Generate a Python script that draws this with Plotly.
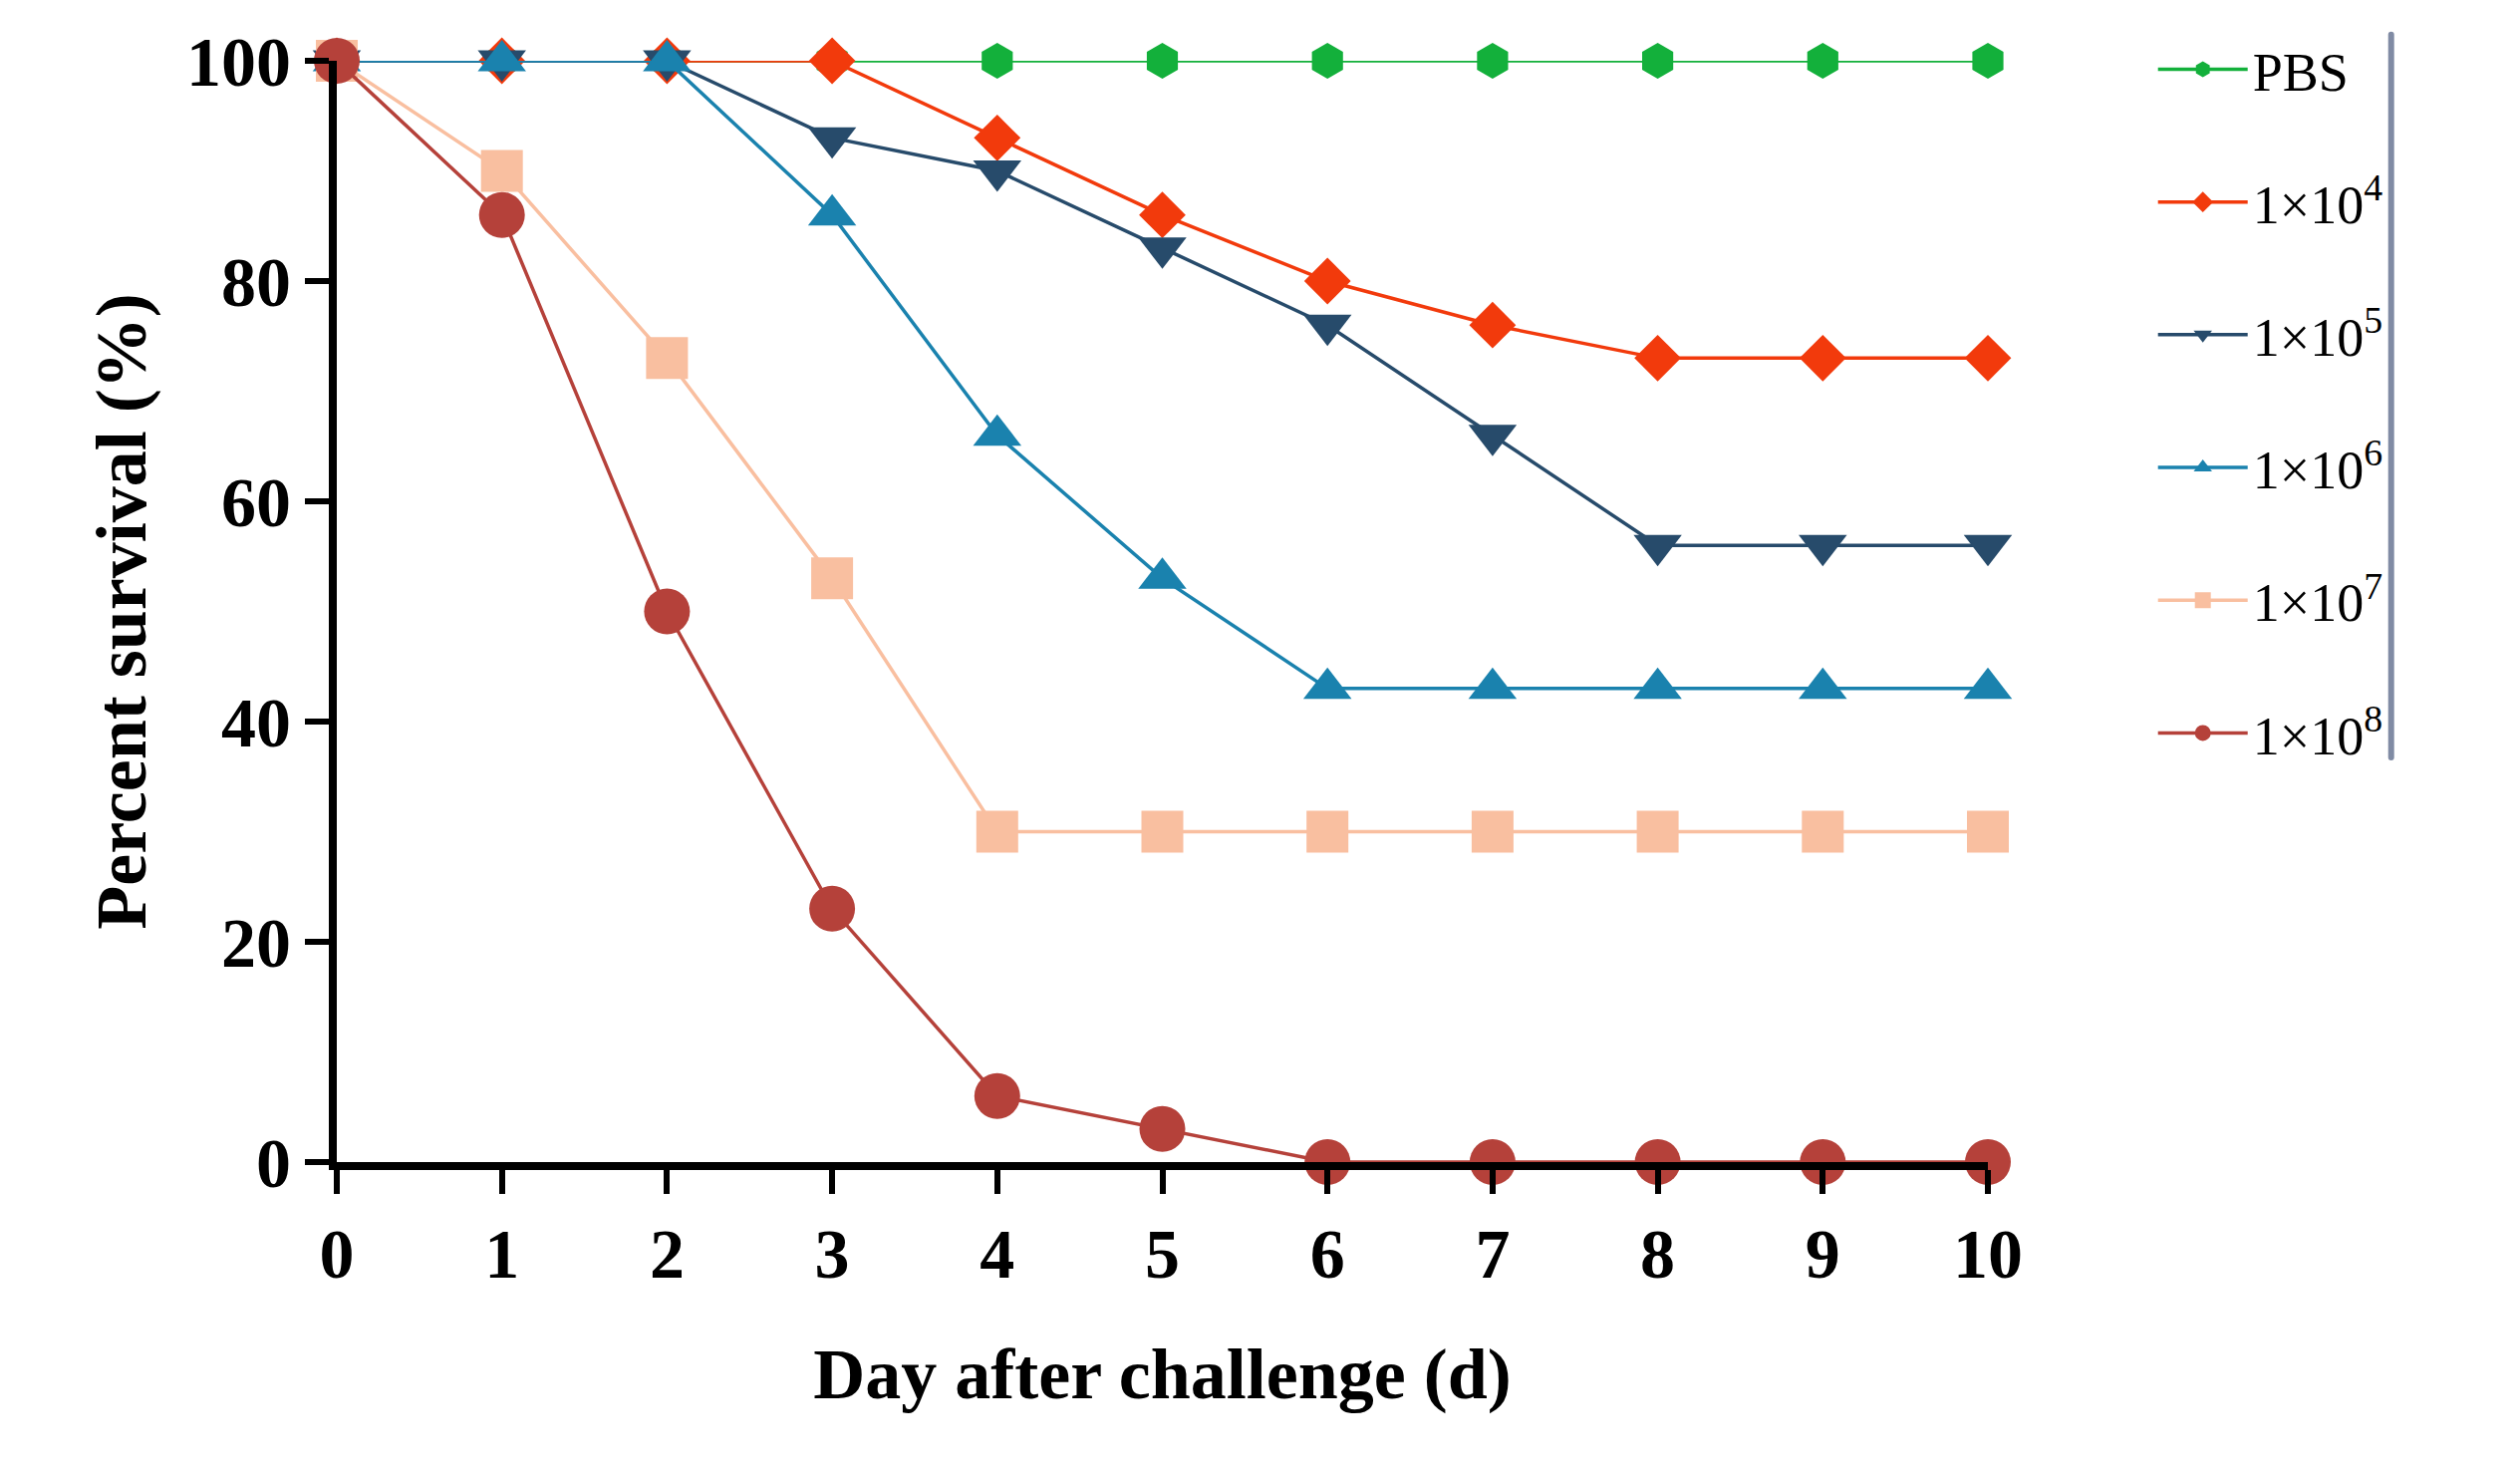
import plotly.graph_objects as go

# =============================================================================
# DATA
# =============================================================================

days = [0, 1, 2, 3, 4, 5, 6, 7, 8, 9, 10]

dose_1e8 = [100, 86, 50, 23, 6, 3, 0, 0, 0, 0, 0]
dose_1e7 = [100, 90, 73, 53, 30, 30, 30, 30, 30, 30, 30]
dose_1e6 = [100, 100, 100, 86, 66, 53, 43, 43, 43, 43, 43]
dose_1e5 = [100, 100, 100, 93, 90, 83, 76, 66, 56, 56, 56]
dose_1e4 = [100, 100, 100, 100, 93, 86, 80, 76, 73, 73, 73]
pbs = [100, 100, 100, 100, 100, 100, 100, 100, 100, 100, 100]

# drawn bottom to top (PBS first), legend shown reversed
series = [
    ("PBS", pbs, "#13B03B", "hexagon", 36),
    ("1×10<sup>4</sup>", dose_1e4, "#F23A0C", "diamond", 36),
    ("1×10<sup>5</sup>", dose_1e5, "#274B6B", "triangle-down", 42),
    ("1×10<sup>6</sup>", dose_1e6, "#1A82AE", "triangle-up", 42),
    ("1×10<sup>7</sup>", dose_1e7, "#F9BFA0", "square", 42),
    ("1×10<sup>8</sup>", dose_1e8, "#B5413A", "circle", 46),
]

FONT = "Liberation Serif"

# =============================================================================
# FIGURE
# =============================================================================

fig = go.Figure()

for name, vals, color, symbol, size in series:
    fig.add_trace(
        go.Scatter(
            x=days,
            y=vals,
            mode="lines+markers",
            name=name,
            legendgroup=name,
            line=dict(color=color, width=3.5),
            marker=dict(color=color, symbol=symbol, size=size),
            cliponaxis=False,
        )
    )

fig.update_layout(
    width=2529,
    height=1481,
    plot_bgcolor="white",
    paper_bgcolor="white",
    margin=dict(l=330, r=542, t=53, b=323),
    font=dict(family=FONT, color="black"),
    legend=dict(
        x=1.1,
        y=1.03,
        xanchor="left",
        yanchor="top",
        font=dict(family=FONT, size=54),
        traceorder="reversed+grouped",
        tracegroupgap=60,
        itemwidth=90,
    ),
)

fig.update_xaxes(
    range=[0, 10],
    tickvals=days,
    showgrid=False,
    zeroline=False,
    showline=True,
    linecolor="black",
    linewidth=8,
    ticks="outside",
    ticklen=24,
    tickwidth=6,
    tickcolor="black",
    tickfont=dict(family=FONT, size=70, color="black", weight="bold"),
    title=dict(
        text="<b>Day after challenge (d)</b>",
        font=dict(family=FONT, size=72),
        standoff=60,
    ),
)

fig.update_yaxes(
    range=[0, 100],
    tickvals=[0, 20, 40, 60, 80, 100],
    showgrid=False,
    zeroline=False,
    showline=True,
    linecolor="black",
    linewidth=8,
    ticks="outside",
    ticklen=24,
    tickwidth=6,
    tickcolor="black",
    tickfont=dict(family=FONT, size=70, color="black", weight="bold"),
    title=dict(
        text="<b>Percent survival (%)</b>",
        font=dict(family=FONT, size=72),
        standoff=20,
    ),
)

fig.write_html("out.html")
